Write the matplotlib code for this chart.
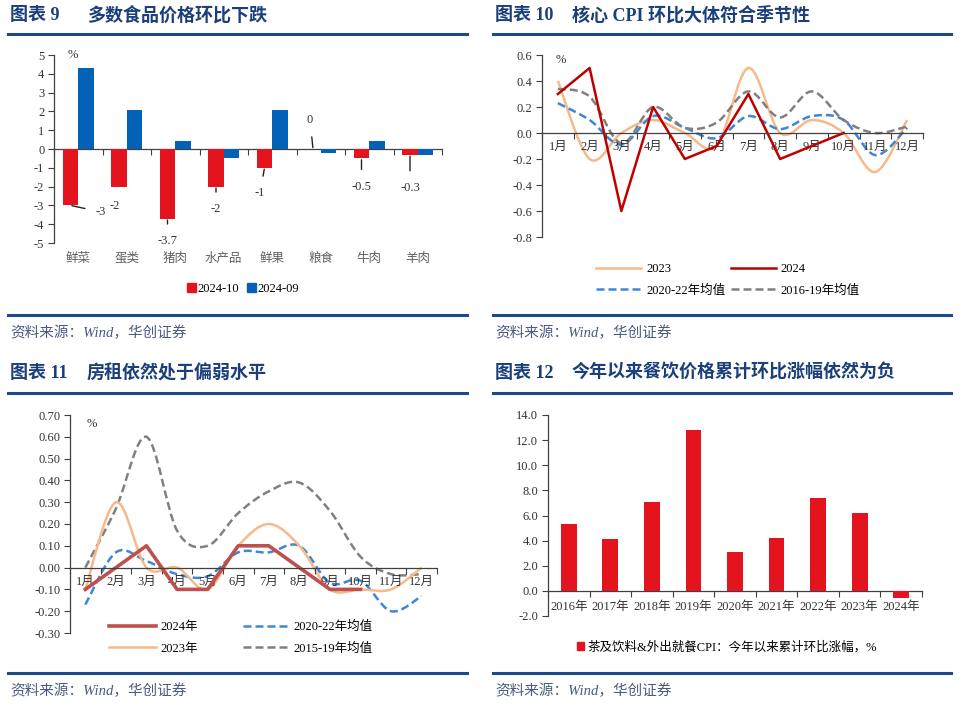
"""
plot.py — four-panel CPI figure (food, core CPI, rent, dining).
"""

import numpy as np
import matplotlib
matplotlib.use("Agg")
import matplotlib.pyplot as plt
from matplotlib.path import Path
from matplotlib.patches import PathPatch, Patch
from matplotlib.lines import Line2D

plt.rcParams["font.family"] = ["Liberation Serif", "Noto Sans CJK SC"]
plt.rcParams["axes.unicode_minus"] = False

W, H = 960, 708

# ---- data -------------------------------------------------------------
food_cats = ["鲜菜", "蛋类", "猪肉", "水产品", "鲜果", "粮食", "牛肉", "羊肉"]
food_oct = [-3, -2, -3.7, -2, -1, 0, -0.5, -0.3]
food_sep = [4.3, 2.1, 0.4, -0.5, 2.1, -0.2, 0.4, -0.3]

months = [f"{i}月" for i in range(1, 13)]
core_2023 = [0.4, -0.2, 0.0, 0.1, 0.0, -0.1, 0.5, 0.0, 0.1, 0.0, -0.3, 0.1]
core_2024 = [0.3, 0.5, -0.6, 0.2, -0.2, -0.1, 0.3, -0.2, -0.1, 0.0]
core_avg_2022 = [0.23, 0.1, -0.09, 0.13, 0.04, -0.04, 0.13, 0.03, 0.13, 0.1, -0.17, 0.04]
core_avg_2019 = [0.34, 0.28, -0.08, 0.2, 0.04, 0.08, 0.32, 0.12, 0.32, 0.1, 0.0, 0.05]

rent_2024 = [-0.1, 0.0, 0.1, -0.1, -0.1, 0.1, 0.1, 0.0, -0.1, -0.1]
rent_2023 = [-0.1, 0.3, 0.0, 0.0, -0.1, 0.1, 0.2, 0.1, -0.1, -0.1, -0.1, 0.0]
rent_avg_2022 = [-0.17, 0.07, 0.03, -0.03, -0.04, 0.07, 0.07, 0.1, -0.07, -0.06, -0.2, -0.13]
rent_avg_2019 = [0.0, 0.27, 0.6, 0.17, 0.1, 0.25, 0.35, 0.39, 0.26, 0.05, -0.03, -0.03]

years = [f"{y}年" for y in range(2016, 2025)]
dining_cum = [5.3, 4.1, 7.1, 12.8, 3.1, 4.2, 7.4, 6.2, -0.6]

# ---- styles -----------------------------------------------------------
NAVY = "#1B3F7A"
RULE = "#1F4A8A"
SRC = "#4A5A80"
SPINE = "#404040"
RED_BAR = "#E3141E"
BLUE_BAR = "#0461B8"
ORANGE = "#F7B98A"
DARK_RED = "#C00000"
RENT_RED = "#C0504D"
DASH_BLUE = "#3F86D6"
DASH_GRAY = "#808080"
DASH = (0, (3.2, 1.6))
CJK = ["Noto Sans CJK SC"]

fig = plt.figure(figsize=(W / 100, H / 100), dpi=100)


def px_axes(x0, y0, x1, y1):
    return fig.add_axes([x0 / W, 1 - y1 / H, (x1 - x0) / W, (y1 - y0) / H])


def fig_text(x, y, s, **kw):
    fig.text(x / W, 1 - y / H, s, **kw)


def rule(x0, x1, y):
    fig.add_artist(Line2D([x0 / W, x1 / W], [1 - y / H] * 2,
                          transform=fig.transFigure, color=RULE, lw=2.2))


def header(x, y, num, title):
    fig_text(x, y, f"图表 {num}", fontsize=13, fontweight="bold",
             color=NAVY, va="center")
    fig_text(x + 77, y, title, fontsize=13, fontweight="bold",
             color=NAVY, va="center")


def source(x, y):
    fig_text(x, y, "资料来源：Wind，华创证券", fontsize=10.5, style="italic",
             color=SRC, va="center")


def base_axes(ax, n, ylim, yticks, fmt):
    ax.set_xlim(-0.5, n - 0.5)
    ax.set_ylim(*ylim)
    for s in ["top", "right"]:
        ax.spines[s].set_visible(False)
    ax.spines["bottom"].set_position(("data", 0))
    for s in ["bottom", "left"]:
        ax.spines[s].set_color(SPINE)
        ax.spines[s].set_linewidth(0.9)
    ax.set_xticks(np.arange(n + 1) - 0.5)
    ax.set_xticklabels([])
    ax.set_yticks(yticks)
    ax.set_yticklabels([fmt.format(v + 0.0 if abs(v) > 1e-9 else 0.0)
                        for v in yticks])
    ax.tick_params(axis="x", which="major", length=4, color=SPINE)
    ax.tick_params(axis="y", length=4, color=SPINE, labelsize=9,
                   labelcolor="#333333", pad=3)
    ax.patch.set_alpha(0)


def month_labels(ax, labels, pad=5):
    ax.set_xticks(np.arange(len(labels)), minor=True)
    ax.set_xticklabels(labels, minor=True)
    ax.tick_params(axis="x", which="minor", length=0, labelsize=9,
                   labelcolor="#333333", pad=pad)


def smooth_line(ax, y, color, lw, ls="-"):
    """Excel-style smoothed line drawn as cubic Bezier segments."""
    pts = np.column_stack([np.arange(len(y)), y]).astype(float)
    ext = np.vstack([pts[0], pts, pts[-1]])
    verts, codes = [pts[0]], [Path.MOVETO]
    for i in range(len(pts) - 1):
        p0, p1, p2, p3 = ext[i], ext[i + 1], ext[i + 2], ext[i + 3]
        verts += [p1 + (p2 - p0) / 6, p2 - (p3 - p1) / 6, p2]
        codes += [Path.CURVE4] * 3
    patch = PathPatch(Path(verts, codes), fill=False, edgecolor=color,
                      lw=lw, linestyle=ls, capstyle="butt")
    ax.add_patch(patch)
    return Line2D([], [], color=color, lw=lw, linestyle=ls)


# ---- rules, headers, sources ------------------------------------------
header(10, 15, 9, "多数食品价格环比下跌")
header(495, 15, 10, "核心 CPI 环比大体符合季节性")
header(10, 373, 11, "房租依然处于偏弱水平")
header(495, 373, 12, "今年以来餐饮价格累计环比涨幅依然为负")
for yy in (34, 315, 393, 673):
    rule(8, 467, yy)
    rule(493, 951, yy)
for xx, yy in ((10, 333), (495, 333), (10, 691), (495, 691)):
    source(xx, yy)

# ---- panel 9: food bars -----------------------------------------------
ax1 = px_axes(54, 55, 442, 243)
base_axes(ax1, len(food_cats), (-5, 5), np.arange(-5, 6, 1), "{:.0f}")
x = np.arange(len(food_cats))
ax1.bar(x - 0.16, food_oct, 0.31, color=RED_BAR, zorder=3)
ax1.bar(x + 0.16, food_sep, 0.31, color=BLUE_BAR, zorder=3)
for i, c in enumerate(food_cats):
    ax1.text(i, -0.08, c, transform=ax1.get_xaxis_transform(), ha="center",
             va="center", fontsize=9, color="#606060", family=CJK)
ax1.text(0.035, 1.0, "%", transform=ax1.transAxes, fontsize=9,
         color="#333333", va="center")

# label positions (data units) for the 2024-10 values
label_pos = [(0.47, -3.35), (0.76, -3.03), (1.84, -4.9), (2.84, -3.2),
             (3.75, -2.35), (4.78, 1.55), (5.84, -2.0), (6.84, -2.07)]
for i, (v, (tx, ty)) in enumerate(zip(food_oct, label_pos)):
    s = f"{v:g}"
    if i == 1:
        ax1.text(tx, ty, s, ha="center", va="center", fontsize=9,
                 color="#333333")
        continue
    ax1.annotate(s, xy=(i - 0.16, v), xytext=(tx, ty), ha="center",
                 va="center", fontsize=9, color="#333333",
                 arrowprops=dict(arrowstyle="-", color="#222222", lw=1.0,
                                 shrinkA=6, shrinkB=1))

fig.legend(handles=[Patch(color=RED_BAR, label="2024-10"),
                    Patch(color=BLUE_BAR, label="2024-09")],
           loc="center", bbox_to_anchor=(243 / W, 1 - 289 / H), ncol=2,
           frameon=False, fontsize=9, handlelength=0.7, handleheight=0.7,
           handletextpad=0.15, columnspacing=0.6)

# ---- panel 10: core CPI -----------------------------------------------
ax2 = px_axes(542, 55, 923, 237)
base_axes(ax2, 12, (-0.8, 0.6), np.round(np.arange(-0.8, 0.61, 0.2), 1),
          "{:.1f}")
month_labels(ax2, months, pad=6)
h23 = smooth_line(ax2, core_2023, ORANGE, 1.8)
h22 = smooth_line(ax2, core_avg_2022, DASH_BLUE, 1.8, DASH)
h19 = smooth_line(ax2, core_avg_2019, DASH_GRAY, 1.8, DASH)
h24, = ax2.plot(np.arange(len(core_2024)), core_2024, color=DARK_RED, lw=1.8)
ax2.text(0.035, 0.97, "%", transform=ax2.transAxes, fontsize=9,
         color="#333333", va="center")
fig.legend(handles=[h23, h22, h24, h19],
           labels=["2023", "2020-22年均值", "2024", "2016-19年均值"],
           loc="center", bbox_to_anchor=(728 / W, 1 - 280 / H), ncol=2,
           frameon=False, fontsize=9, handlelength=3.6, handletextpad=0.4,
           columnspacing=0.4, labelspacing=0.75)

# ---- panel 11: rent ---------------------------------------------------
ax3 = px_axes(70, 415, 437, 633)
base_axes(ax3, 12, (-0.3, 0.7), np.round(np.arange(-0.3, 0.71, 0.1), 2),
          "{:.2f}")
month_labels(ax3, months, pad=6)
r19 = smooth_line(ax3, rent_avg_2019, DASH_GRAY, 1.8, DASH)
r22 = smooth_line(ax3, rent_avg_2022, DASH_BLUE, 1.8, DASH)
r23 = smooth_line(ax3, rent_2023, ORANGE, 1.8)
r24, = ax3.plot(np.arange(len(rent_2024)), rent_2024, color=RENT_RED, lw=2.6)
ax3.text(0.045, 0.96, "%", transform=ax3.transAxes, fontsize=9,
         color="#333333", va="center")
fig.legend(handles=[r24, r23, r22, r19],
           labels=["2024年", "2023年", "2020-22年均值", "2015-19年均值"],
           loc="center", bbox_to_anchor=(241 / W, 1 - 638 / H), ncol=2,
           frameon=False, fontsize=9, handlelength=3.8, handletextpad=0.3,
           columnspacing=3.6, labelspacing=0.75)

# ---- panel 12: dining -------------------------------------------------
ax4 = px_axes(548, 415, 922, 616)
base_axes(ax4, len(years), (-2, 14), np.arange(-2, 15, 2), "{:.1f}")
month_labels(ax4, years, pad=7)
ax4.bar(np.arange(len(years)), dining_cum, 0.38, color=RED_BAR, zorder=3)
fig.legend(handles=[Patch(color=RED_BAR,
                          label="茶及饮料&外出就餐CPI：今年以来累计环比涨幅，%")],
           loc="center", bbox_to_anchor=(727 / W, 1 - 647 / H),
           frameon=False, fontsize=9, handlelength=0.6, handleheight=0.6,
           handletextpad=0.3)

fig.savefig("out.png", dpi=100)
